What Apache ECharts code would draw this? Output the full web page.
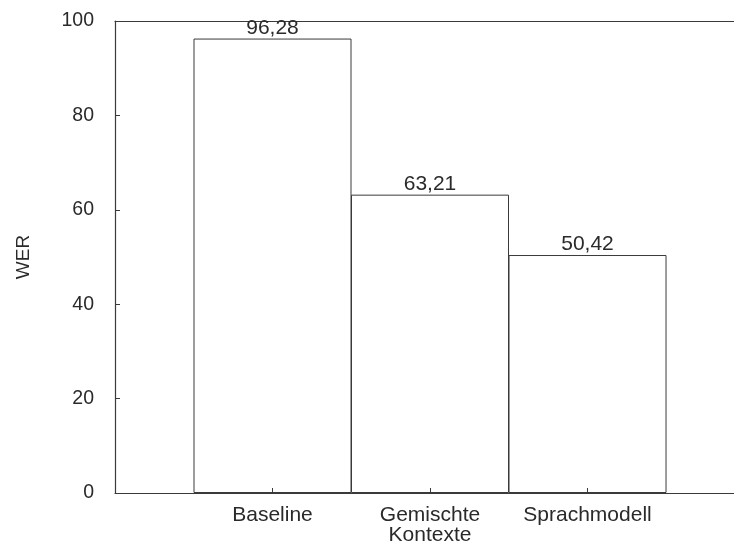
<!DOCTYPE html>
<html>
<head>
<meta charset="utf-8">
<script src="https://cdn.jsdelivr.net/npm/echarts@6/dist/echarts.min.js"></script>
<style>
  html, body { margin: 0; padding: 0; background: #fff; }
  #werChart { width: 734px; height: 542px; }
</style>
</head>
<body>
<div id="werChart"></div>
<script>
// WER je System, Balken an den Positionen 1..3
var categories = ['Baseline', 'Gemischte\nKontexte', 'Sprachmodell'];
var positions = [1, 2, 3];
var werValues = [96.28, 63.21, 50.42];
var yTicks = [0, 20, 40, 60, 80, 100];

var lineColor = '#3a3a3a';
var textColor = '#2a2a2a';
var font = 'Liberation Sans, Arial, sans-serif';

var barData = positions.map(function (x, i) { return [x, werValues[i]]; });

var werChart = echarts.init(document.getElementById('werChart'));
var werOption = {
  animation: false,
  backgroundColor: '#fff',
  grid: {
    left: 115,
    right: 0,
    top: 21,
    bottom: 49,
    outerBoundsMode: 'none'
  },
  xAxis: [
    {
      type: 'value',
      min: 0,
      max: 3.93,
      interval: 1,
      z: 5,
      axisLine: { show: true, onZero: false, lineStyle: { color: lineColor, width: 1.2 } },
      axisTick: { show: true, inside: true, length: 5, lineStyle: { color: lineColor } },
      axisLabel: {
        margin: 12,
        fontFamily: font,
        fontSize: 21,
        color: textColor,
        lineHeight: 20,
        showMinLabel: false,
        showMaxLabel: false,
        formatter: function (v) {
          var i = positions.indexOf(v);
          return i >= 0 ? categories[i] : '';
        }
      },
      splitLine: { show: false }
    },
    {
      type: 'value',
      position: 'top',
      min: 0,
      max: 3.93,
      axisLine: { show: true, onZero: false, lineStyle: { color: lineColor, width: 1.2 } },
      axisTick: { show: false },
      axisLabel: { show: false },
      splitLine: { show: false }
    }
  ],
  yAxis: {
    type: 'value',
    min: yTicks[0],
    max: yTicks[yTicks.length - 1],
    interval: 20,
    z: 5,
    name: 'WER',
    nameLocation: 'middle',
    nameGap: 82,
    nameRotate: 90,
    nameTextStyle: { fontFamily: font, fontSize: 19, color: textColor },
    axisLine: { show: true, lineStyle: { color: lineColor, width: 1.2 } },
    axisTick: { show: true, inside: true, length: 5, lineStyle: { color: lineColor } },
    axisLabel: { margin: 21, fontFamily: font, fontSize: 19.5, color: textColor },
    splitLine: { show: false }
  },
  series: [
    {
      name: 'WER',
      type: 'bar',
      data: barData,
      barWidth: 158,
      itemStyle: { color: '#fff', borderColor: lineColor, borderWidth: 1 },
      label: {
        show: true,
        position: 'top',
        distance: 0,
        fontFamily: font,
        fontSize: 21,
        color: textColor,
        formatter: function (p) {
          return p.value[1].toFixed(2).replace('.', ',');
        }
      }
    }
  ]
};
werChart.setOption(werOption);
</script>
</body>
</html>
